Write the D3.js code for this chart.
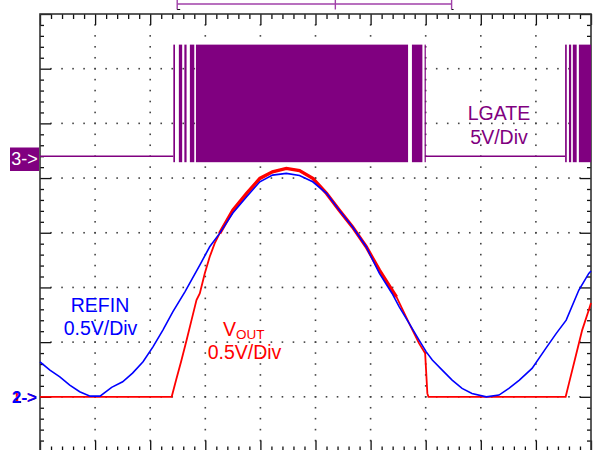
<!DOCTYPE html>
<html>
<head>
<meta charset="utf-8">
<script src="https://cdn.jsdelivr.net/npm/d3@7"></script>
<style>
  html, body { margin: 0; padding: 0; background: #fff; }
  svg { display: block; }
  text { font-family: "Liberation Sans", Arial, sans-serif; }
</style>
</head>
<body>
<svg id="chart" width="599" height="450"></svg>
<script>
// ---------------- DATA ----------------
// time axis in screen divisions (10 div across), voltages in volts
const xDivs = [0, 1, 2, 3, 4, 5, 6, 7, 8, 9, 10];
const yDivs = [0, 1, 2, 3, 4, 5, 6, 7, 8];

// CH2 REFIN (0.5 V/div, 0 V at marker "2->")
const refinT = [0.00, 0.18, 0.36, 0.54, 0.72, 0.91, 1.09, 1.30, 1.50, 1.68, 1.87, 2.05, 2.23, 2.41, 2.63,
                2.90, 3.08, 3.26, 3.50, 3.75, 3.99, 4.22, 4.47, 4.71, 4.95, 5.20, 5.43, 5.67, 5.92,
                6.16, 6.39, 6.52, 6.70, 6.88, 7.01, 7.12, 7.30, 7.48, 7.66, 7.84, 8.10, 8.33, 8.51,
                8.70, 8.93, 9.18, 9.37, 9.55, 9.78, 9.96, 10.0];
const refinV = [0.320, 0.244, 0.183, 0.107, 0.046, 0.006, 0.006, 0.086, 0.137, 0.217, 0.320, 0.457, 0.610, 0.777, 0.960,
                1.204, 1.372, 1.494, 1.680, 1.829, 1.966, 2.027, 2.043, 2.023, 1.966, 1.860, 1.707, 1.554, 1.372,
                1.128, 0.945, 0.823, 0.671, 0.518, 0.411, 0.336, 0.244, 0.153, 0.077, 0.031, 0.000, 0.016, 0.077,
                0.153, 0.260, 0.443, 0.580, 0.701, 0.976, 1.128, 1.150];

// CH1 VOUT (0.5 V/div, 0 V at marker "1->")
const voutT = [0.00, 2.39, 2.47, 2.56, 2.66, 2.75, 2.84, 2.90, 2.99, 3.08, 3.17, 3.26, 3.50, 3.75, 3.99,
               4.22, 4.47, 4.71, 4.95, 5.20, 5.43, 5.67, 5.92, 6.16, 6.39, 6.47, 6.70, 6.88, 6.99,
               7.03, 7.05, 9.54, 9.60, 9.72, 9.84, 9.96, 10.0];
const voutV = [0.000, 0.000, 0.153, 0.320, 0.518, 0.701, 0.884, 0.945, 1.128, 1.280, 1.403, 1.494, 1.707, 1.860, 1.997,
               2.057, 2.088, 2.068, 1.997, 1.860, 1.707, 1.554, 1.372, 1.159, 0.976, 0.914, 0.671, 0.488, 0.397,
               0.031, 0.000, 0.000, 0.123, 0.366, 0.610, 0.793, 0.857];

// CH3 LGATE (5 V/div): idle baseline segments and switching bursts
const lgateIdleStart = [0.00, 7.00];
const lgateIdleEnd   = [2.42, 9.53];
const lgateBurstStart = [2.42, 2.52, 2.62, 2.72, 2.83, 6.75, 6.98, 9.53, 9.60, 9.67, 9.78];
const lgateBurstEnd   = [2.45, 2.58, 2.66, 2.80, 6.68, 6.94, 7.00, 9.56, 9.64, 9.74, 10.0];
const lgateHighV = 10.2;
const lgateLowV = -0.55;

// labels
const lgateLabel = ["LGATE", "5V/Div"];
const refinLabel = ["REFIN", "0.5V/Div"];
const voutLabel = ["V", "OUT", "0.5V/Div"];
const markerLabels = ["3->", "1->", "2->"];

// ---------------- SCALES ----------------
const svg = d3.select("#chart");
const X0 = 40, X1 = 591, Y0 = 14, Y1 = 451.5;
const x = d3.scaleLinear().domain([0, 10]).range([X0, X1]);
const yDiv = d3.scaleLinear().domain([0, 8]).range([Y0, Y1]);
// CH1/CH2: 0 V at 7 div from top, 0.5 V/div
const y12 = d3.scaleLinear().domain([-0.5, 3.5]).range([Y1, Y0]);
// CH3: 0 V at 2.6 div from top, 5 V/div
const y3 = d3.scaleLinear().domain([13 - 40, 13]).range([Y1, Y0]);

const purple = "#800080", blue = "#0000ff", red = "#ff0000";

// ---------------- GRID (dotted major lines) ----------------
const minorX = d3.range(0, 50 + 1).map(i => i / 5);
const minorY = d3.range(0, 40 + 1).map(i => i / 5);
const grid = svg.append("g");
xDivs.slice(1, -1).forEach(d => {
  minorY.slice(1, -1).forEach(m => {
    grid.append("rect").attr("x", x(d) - 0.8).attr("y", yDiv(m) - 0.8)
      .attr("width", 1.6).attr("height", 1.6).attr("fill", "#444");
  });
});
yDivs.slice(1, -1).forEach(d => {
  minorX.slice(1, -1).forEach(m => {
    grid.append("rect").attr("x", x(m) - 0.8).attr("y", yDiv(d) - 0.8)
      .attr("width", 1.6).attr("height", 1.6).attr("fill", "#444");
  });
});

// ---------------- FRAME + TICKS via d3 axes ----------------
const isMajor = v => Math.abs(v - Math.round(v)) < 1e-6;
function tickAxis(axisFn, scale, values, g) {
  g.call(axisFn(scale).tickValues(values).tickFormat("").tickSizeOuter(0).tickSize(0));
  g.select(".domain").remove();
  g.selectAll(".tick line").attr("stroke", "#111").attr("stroke-width", 1.3);
}
const gTop = svg.append("g").attr("transform", `translate(0,${Y0})`);
tickAxis(d3.axisBottom, x, minorX, gTop);
gTop.selectAll(".tick line").attr("y2", d => isMajor(d) ? 11 : 5);
const gBot = svg.append("g").attr("transform", `translate(0,${Y1})`);
tickAxis(d3.axisTop, x, minorX, gBot);
gBot.selectAll(".tick line").attr("y2", d => isMajor(d) ? -11 : -5);
const gLeft = svg.append("g").attr("transform", `translate(${X0},0)`);
tickAxis(d3.axisRight, yDiv, minorY, gLeft);
gLeft.selectAll(".tick line").attr("x2", d => isMajor(d) ? 11 : 4);
const gRight = svg.append("g").attr("transform", `translate(${X1},0)`);
tickAxis(d3.axisLeft, yDiv, minorY, gRight);
gRight.selectAll(".tick line").attr("x2", d => isMajor(d) ? -11 : -4);

svg.append("rect").attr("x", X0).attr("y", Y0).attr("width", X1 - X0).attr("height", Y1 - Y0)
  .attr("fill", "none").attr("stroke", "#333").attr("stroke-width", 1.6);

// ---------------- top memory bar ----------------
const barCol = "#a040a8";
const bar = svg.append("g");
bar.append("line").attr("x1", x(2.49)).attr("x2", x(7.47)).attr("y1", 4).attr("y2", 4)
  .attr("stroke", barCol).attr("stroke-width", 1.6);
[2.49, 5.36, 7.47].forEach(d => {
  bar.append("line").attr("x1", x(d)).attr("x2", x(d)).attr("y1", 0).attr("y2", 9.5)
    .attr("stroke", barCol).attr("stroke-width", 1.4);
});
bar.append("line").attr("x1", x(2.49)).attr("x2", x(2.49) + 3).attr("y1", 9.5).attr("y2", 9.5).attr("stroke", "#111");
bar.append("line").attr("x1", x(7.47)).attr("x2", x(7.47) + 2).attr("y1", 9.5).attr("y2", 9.5).attr("stroke", "#111");

// ---------------- CH3 LGATE ----------------
const g3 = svg.append("g");
lgateIdleStart.forEach((s, i) => {
  g3.append("line").attr("x1", x(s)).attr("x2", x(lgateIdleEnd[i]))
    .attr("y1", y3(0)).attr("y2", y3(0)).attr("stroke", purple).attr("stroke-width", 1.5);
});
lgateBurstStart.forEach((s, i) => {
  g3.append("rect").attr("x", x(s)).attr("y", y3(lgateHighV))
    .attr("width", Math.max(1.2, x(lgateBurstEnd[i]) - x(s)))
    .attr("height", y3(lgateLowV) - y3(lgateHighV))
    .attr("fill", purple);
});

// ---------------- CH1 VOUT & CH2 REFIN ----------------
const line = d3.line().x(d => x(d[0])).y(d => y12(d[1]));
const voutPts = voutT.map((t, i) => [t, voutV[i]]);
const refinPts = refinT.map((t, i) => [t, refinV[i]]);
svg.append("path").attr("d", line(voutPts)).attr("fill", "none")
  .attr("stroke", red).attr("stroke-width", 1.8);
svg.append("path").attr("d", line(voutPts.filter(p => p[0] >= 3.2 && p[0] <= 6.5))).attr("fill", "none")
  .attr("stroke", red).attr("stroke-width", 3.4);
svg.append("path").attr("d", line(refinPts)).attr("fill", "none")
  .attr("stroke", blue).attr("stroke-width", 1.6);

// ---------------- markers ----------------
svg.append("rect").attr("x", 10).attr("y", 147.5).attr("width", 29).attr("height", 23.5).attr("fill", purple);
svg.append("text").attr("x", 24.5).attr("y", 165).attr("text-anchor", "middle")
  .attr("font-size", 18).attr("fill", "#fff").text(markerLabels[0]);
svg.append("text").attr("x", 12).attr("y", y12(0) + 6)
  .attr("font-size", 17).attr("font-weight", "bold").attr("fill", red).text(markerLabels[1]);
svg.append("text").attr("x", 12).attr("y", y12(0) + 6)
  .attr("font-size", 17).attr("font-weight", "bold").attr("fill", blue).text(markerLabels[2]);

// ---------------- labels ----------------
svg.append("text").attr("x", 499).attr("y", 119.5).attr("text-anchor", "middle")
  .attr("font-size", 19.5).attr("fill", purple).text(lgateLabel[0]);
svg.append("text").attr("x", 499).attr("y", 143.5).attr("text-anchor", "middle")
  .attr("font-size", 19.5).attr("fill", purple).text(lgateLabel[1]);

svg.append("text").attr("x", 100).attr("y", 312).attr("text-anchor", "middle")
  .attr("font-size", 19.5).attr("fill", blue).text(refinLabel[0]);
svg.append("text").attr("x", 100.5).attr("y", 334.5).attr("text-anchor", "middle")
  .attr("font-size", 19.5).attr("fill", blue).text(refinLabel[1]);

const vt = svg.append("text").attr("x", 223).attr("y", 335.5).attr("font-size", 19.5).attr("fill", red);
vt.append("tspan").text(voutLabel[0]);
vt.append("tspan").attr("font-size", 13.5).attr("dy", 3).text(voutLabel[1]);
svg.append("text").attr("x", 244.5).attr("y", 358.5).attr("text-anchor", "middle")
  .attr("font-size", 19.5).attr("fill", red).text(voutLabel[2]);
</script>
</body>
</html>
